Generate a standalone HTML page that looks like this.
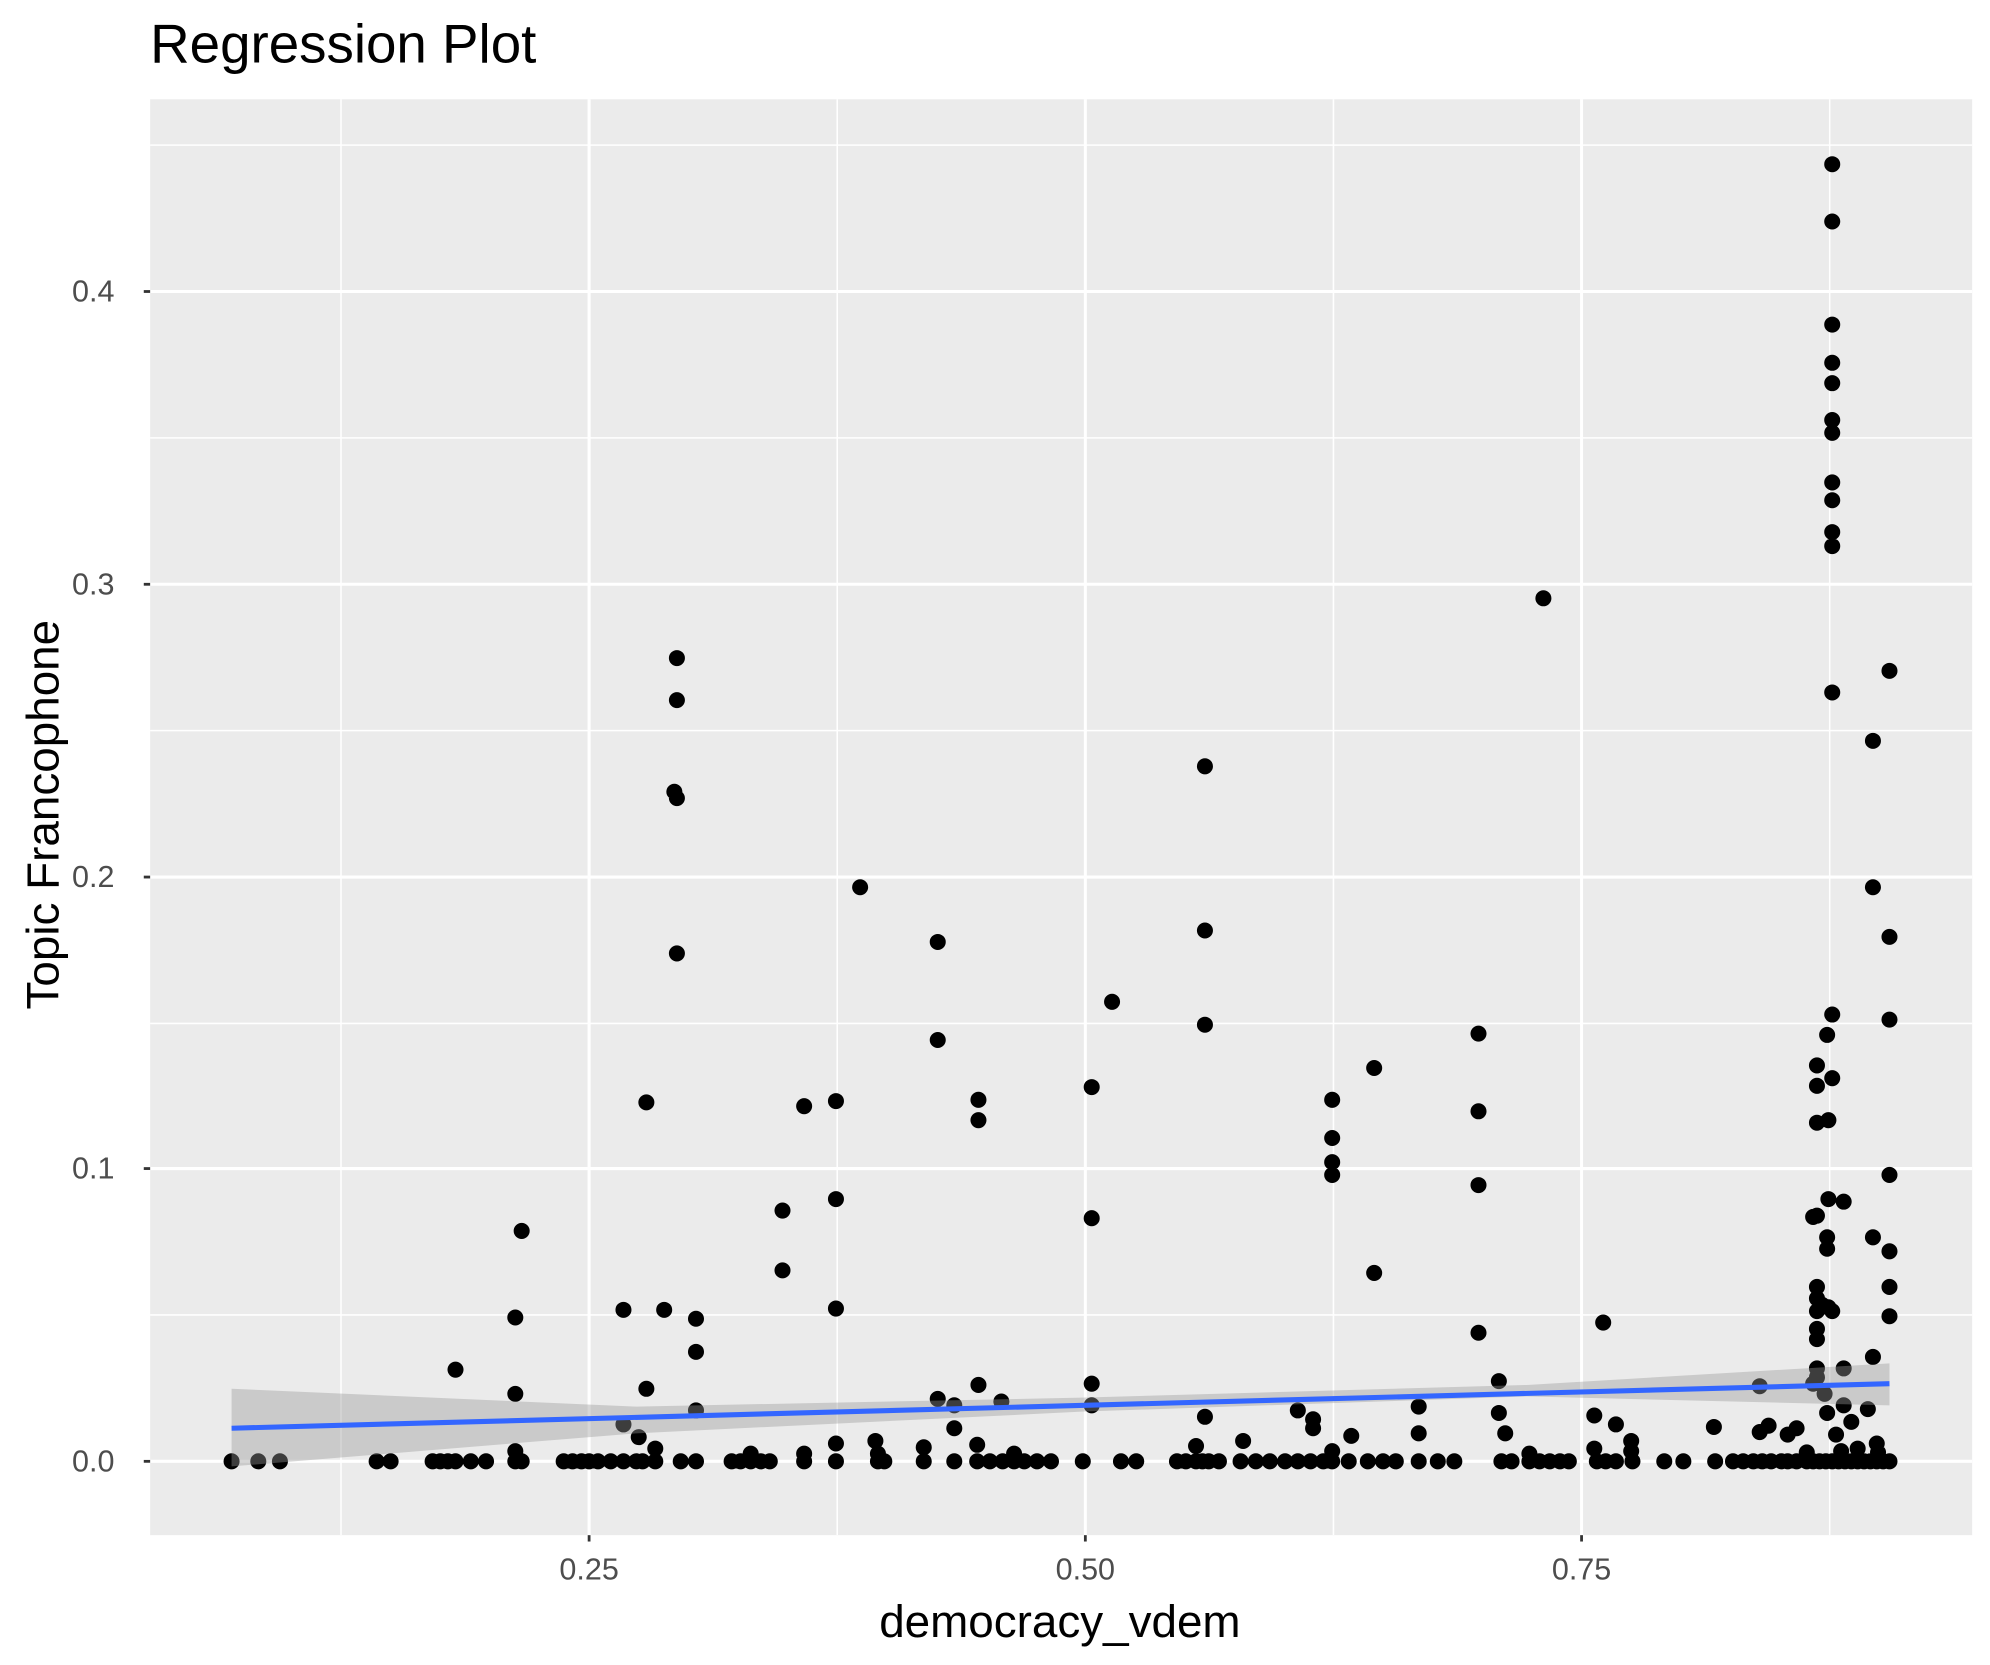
<!DOCTYPE html>
<html><head><style>html,body{margin:0;padding:0;background:#fff}svg{display:block}</style></head>
<body>
<svg width="1990" height="1665" viewBox="0 0 1564 1308" preserveAspectRatio="none" xmlns="http://www.w3.org/2000/svg" font-family="Liberation Sans, sans-serif">
<rect x="0" y="0" width="1564" height="1308" fill="#fff"/>
<rect x="118" y="78" width="1432" height="1128" fill="#ebebeb"/>
<g stroke="#fff" stroke-width="1.2">
<line x1="268" y1="78" x2="268" y2="1206"/><line x1="658" y1="78" x2="658" y2="1206"/><line x1="1048" y1="78" x2="1048" y2="1206"/><line x1="1438" y1="78" x2="1438" y2="1206"/>
<line x1="118" y1="114" x2="1550" y2="114"/><line x1="118" y1="344" x2="1550" y2="344"/><line x1="118" y1="574" x2="1550" y2="574"/><line x1="118" y1="804" x2="1550" y2="804"/><line x1="118" y1="1033" x2="1550" y2="1033"/>
</g>
<g stroke="#fff" stroke-width="2.4">
<line x1="463" y1="78" x2="463" y2="1206"/><line x1="853" y1="78" x2="853" y2="1206"/><line x1="1243" y1="78" x2="1243" y2="1206"/>
<line x1="118" y1="229" x2="1550" y2="229"/><line x1="118" y1="459" x2="1550" y2="459"/><line x1="118" y1="689" x2="1550" y2="689"/><line x1="118" y1="918" x2="1550" y2="918"/><line x1="118" y1="1148" x2="1550" y2="1148"/>
</g>
<path fill="none" stroke="#000" stroke-width="12.6" stroke-linecap="round" d="
M182 1148h0M203 1148h0M220 1148h0M296 1148h0M307 1148h0M340 1148h0M346 1148h0M352 1148h0M358 1148h0M370 1148h0M382 1148h0M405 1148h0M410 1148h0M443 1148h0M450 1148h0M457 1148h0M463 1148h0M470 1148h0M480 1148h0M490 1148h0M500 1148h0M505 1148h0M515 1148h0M535 1148h0M547 1148h0M575 1148h0M582 1148h0M590 1148h0M598 1148h0M605 1148h0M632 1148h0M657 1148h0M690 1148h0M695 1148h0M726 1148h0M750 1148h0M768 1148h0M778 1148h0M788 1148h0M797 1148h0M805 1148h0M815 1148h0M826 1148h0M851 1148h0M881 1148h0M893 1148h0M925 1148h0M932 1148h0M940 1148h0M945 1148h0M950 1148h0M958 1148h0M975 1148h0M987 1148h0M998 1148h0M1010 1148h0M1020 1148h0M1030 1148h0M1040 1148h0M1047 1148h0M1060 1148h0M1075 1148h0M1087 1148h0M1097 1148h0M1115 1148h0M1130 1148h0M1143 1148h0M1180 1148h0M1188 1148h0M1202 1148h0M1210 1148h0M1218 1148h0M1226 1148h0M1233 1148h0M1255 1148h0M1262 1148h0M1270 1148h0M1283 1148h0M1308 1148h0M1323 1148h0M1348 1148h0M1362 1148h0M1370 1148h0M1378 1148h0M1385 1148h0M1392 1148h0M1400 1148h0M1405 1148h0M1412 1148h0M1420 1148h0M1425 1148h0M1430 1148h0M1435 1148h0M1440 1148h0M1445 1148h0M1450 1148h0M1455 1148h0M1460 1148h0M1465 1148h0M1470 1148h0M1475 1148h0M1480 1148h0M1485 1148h0
M358 1076h0M405 1095h0M405 1035h0M410 967h0M405 1140h0M490 1029h0M490 1119h0M502 1129h0M508 1091h0M515 1138h0M522 1029h0M532 517h0M532 550h0M530 622h0M532 627h0M532 749h0M508 866h0M547 1036h0M547 1062h0M547 1108h0M590 1142h0M615 951h0M615 998h0M632 869h0M632 1142h0M657 865h0M657 942h0M657 1028h0M657 1134h0M676 697h0M688 1132h0M690 1142h0M726 1137h0M737 740h0M737 817h0M737 1099h0M750 1104h0M750 1122h0M769 864h0M769 880h0M769 1088h0M768 1135h0M787 1101h0M797 1142h0M858 854h0M858 957h0M858 1087h0M858 1104h0M874 787h0M947 602h0M947 731h0M947 805h0M947 1113h0M940 1136h0M977 1132h0M1020 1108h0M1032 1115h0M1032 1122h0M1047 864h0M1047 894h0M1047 913h0M1047 923h0M1047 1140h0M1062 1128h0M1080 839h0M1080 1000h0M1115 1105h0M1115 1126h0M1162 812h0M1162 873h0M1162 931h0M1162 1047h0M1178 1085h0M1178 1110h0M1183 1126h0M1213 470h0M1202 1142h0M1253 1112h0M1253 1138h0M1260 1039h0M1270 1119h0M1282 1132h0M1282 1140h0M1347 1121h0M1383 1089h0M1383 1125h0M1390 1120h0M1405 1127h0M1412 1122h0M1420 1141h0
M1440 129h0M1440 174h0M1440 255h0M1440 285h0M1440 301h0M1440 330h0M1440 340h0M1440 379h0M1440 393h0M1440 418h0M1440 429h0M1440 544h0M1440 797h0M1440 847h0M1436 813h0M1428 837h0M1428 853h0M1428 882h0M1437 880h0M1428 955h0M1425 956h0M1437 942h0M1436 972h0M1436 981h0M1437 1027h0M1428 1011h0M1428 1020h0M1428 1030h0M1428 1044h0M1428 1052h0M1432 1025h0M1440 1030h0M1428 1075h0M1428 1082h0M1425 1087h0M1436 1110h0M1443 1127h0M1449 1075h0M1449 1104h0M1449 944h0M1434 1095h0M1447 1140h0M1455 1117h0M1460 1138h0M1468 1107h0M1472 582h0M1472 697h0M1472 972h0M1472 1066h0M1475 1134h0M1485 527h0M1485 736h0M1485 801h0M1485 923h0M1485 983h0M1485 1011h0M1485 1034h0M1476 1141h0"/>
<polygon points="182,1091 500,1105 850,1098 1200,1088 1485,1071 1485,1104 1200,1097 850,1109 500,1126 182,1152" fill="#999" fill-opacity="0.4"/>
<line x1="182" y1="1122" x2="1485" y2="1087" stroke="#3366ff" stroke-width="4"/>
<g stroke="#333" stroke-width="2.2">
<line x1="113" y1="229" x2="118" y2="229"/><line x1="113" y1="459" x2="118" y2="459"/><line x1="113" y1="689" x2="118" y2="689"/><line x1="113" y1="918" x2="118" y2="918"/><line x1="113" y1="1148" x2="118" y2="1148"/>
<line x1="463" y1="1206" x2="463" y2="1211"/><line x1="853" y1="1206" x2="853" y2="1211"/><line x1="1243" y1="1206" x2="1243" y2="1211"/>
</g>
<g fill="#4d4d4d" font-size="24" text-anchor="end">
<text x="90" y="237">0.4</text><text x="90" y="467">0.3</text><text x="90" y="697">0.2</text><text x="90" y="926">0.1</text><text x="90" y="1156">0.0</text>
</g>
<g fill="#4d4d4d" font-size="24" text-anchor="middle">
<text x="463" y="1241">0.25</text><text x="853" y="1241">0.50</text><text x="1243" y="1241">0.75</text>
</g>
<text x="833" y="1286" font-size="36" text-anchor="middle" fill="#000">democracy_vdem</text>
<text transform="translate(46,640) rotate(-90)" font-size="36" text-anchor="middle" fill="#000">Topic Francophone</text>
<text x="118" y="49" font-size="43" fill="#000">Regression Plot</text>
</svg>
</body></html>
